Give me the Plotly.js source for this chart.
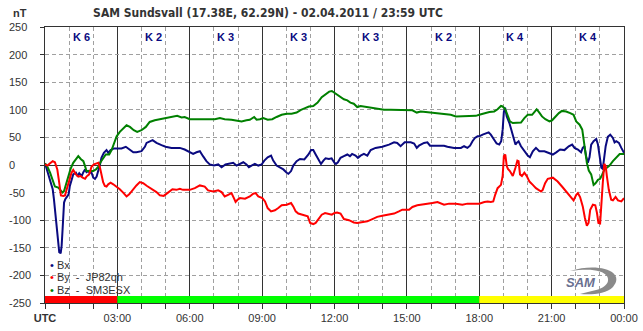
<!DOCTYPE html>
<html>
<head>
<meta charset="utf-8">
<script src="https://cdn.plot.ly/plotly-3.0.1.min.js"></script>
<style>html,body{margin:0;padding:0;background:#fff;}#chart{width:643px;height:331px;}</style>
</head>
<body>
<div id="chart"></div>
<script>
// ---- data (hours UTC, nT) ----
const bxT = [0,0.1,0.2,0.32,0.37,0.43,0.46,0.51,0.57,0.59,0.65,0.69,0.73,0.76,0.79,0.84,0.92,0.98,1.03,1.1,1.17,1.28,1.35,1.42,1.52,1.59,1.66,1.72,1.79,1.86,1.93,2.0,2.07,2.14,2.21,2.28,2.34,2.44,2.55,2.62,2.72,2.86,3.0,3.17,3.35,3.49,3.66,3.79,4.0,4.14,4.21,4.46,4.62,4.83,5.0,5.24,5.59,5.79,6.0,6.14,6.28,6.42,6.55,6.69,6.83,7.0,7.18,7.32,7.48,7.66,7.8,7.94,8.08,8.22,8.35,8.45,8.56,8.7,8.84,8.98,9.09,9.23,9.37,9.46,9.6,9.74,9.88,10.02,10.09,10.2,10.29,10.43,10.57,10.75,10.92,11.03,11.12,11.22,11.33,11.44,11.54,11.63,11.77,11.88,12.0,12.06,12.14,12.25,12.39,12.53,12.64,12.73,12.87,12.97,13.08,13.22,13.36,13.5,13.7,13.98,14.26,14.47,14.6,14.74,14.91,15.16,15.3,15.41,15.5,15.71,15.85,15.96,16.27,16.54,16.68,16.96,17.24,17.37,17.51,17.62,17.72,17.82,17.93,18.0,18.14,18.28,18.39,18.48,18.62,18.72,18.83,18.91,18.97,19.02,19.07,19.14,19.25,19.33,19.41,19.5,19.55,19.63,19.73,19.87,20.01,20.1,20.22,20.35,20.49,20.7,20.91,21.05,21.19,21.35,21.53,21.71,21.85,21.95,22.09,22.22,22.29,22.36,22.43,22.5,22.57,22.64,22.74,22.85,22.92,22.99,23.06,23.12,23.17,23.24,23.33,23.43,23.54,23.61,23.68,23.79,23.89,23.96,24.0];
const bxV = [3,-11,-26,-44,-62,-86,-104,-122,-146,-158,-160,-146,-116,-86,-68,-62,-56,-53,-38,-26,-17,-14,-20,-15,-20,-13,-8,-13,-11,-14,-14,-23,-25,-21,-11,1,13,22,27,22,27,30,30,30,33,28,23,23,25,33,40,45,40,36,33,31,31,28,23,20,23,25,16,7,1,-1,1,-4,1,2,4,-1,2,5,1,-4,-1,2,-1,1,8,14,17,8,-1,-4,-8,-14,-16,-11,-1,7,11,10,19,27,27,19,10,2,8,12,11,12,4,2,5,13,16,19,16,20,17,13,17,20,17,27,31,33,37,41,40,34,41,41,39,31,35,40,41,35,35,35,33,31,31,34,31,35,43,49,52,52,55,57,59,55,46,39,37,43,64,96,104,88,76,64,55,37,40,43,34,25,17,14,25,31,25,25,22,19,23,28,27,34,37,31,28,23,31,34,16,4,14,37,43,47,37,16,-5,-7,10,34,51,55,49,41,43,40,31,23,22];

const byT = [0,0.1,0.21,0.32,0.41,0.51,0.57,0.62,0.66,0.76,0.83,0.9,1.01,1.1,1.17,1.28,1.38,1.48,1.56,1.66,1.72,1.83,1.93,2.03,2.14,2.21,2.28,2.34,2.41,2.48,2.55,2.62,2.72,2.83,2.97,3.1,3.24,3.38,3.49,3.63,3.79,3.93,4.07,4.23,4.41,4.62,4.76,4.92,5.1,5.28,5.45,5.59,5.72,6.0,6.21,6.42,6.62,6.76,6.97,7.18,7.32,7.45,7.59,7.73,7.84,7.9,7.98,8.08,8.29,8.49,8.63,8.73,8.84,9.01,9.12,9.23,9.37,9.53,9.67,9.81,10.02,10.2,10.29,10.39,10.5,10.71,10.89,10.99,11.12,11.22,11.33,11.47,11.61,11.75,11.89,12.0,12.11,12.25,12.39,12.6,12.8,12.94,13.15,13.36,13.57,13.77,13.98,14.19,14.47,14.67,14.81,15.09,15.23,15.43,15.64,15.85,16.06,16.27,16.54,16.75,17.03,17.3,17.51,17.79,18.0,18.21,18.35,18.48,18.58,18.66,18.76,18.9,18.97,19.02,19.08,19.14,19.19,19.27,19.39,19.5,19.58,19.63,19.69,19.77,19.87,19.97,20.08,20.22,20.35,20.56,20.63,20.73,20.84,21.05,21.25,21.43,21.6,21.78,21.91,22.02,22.09,22.18,22.29,22.38,22.46,22.53,22.6,22.71,22.81,22.88,22.94,23.01,23.07,23.12,23.18,23.24,23.29,23.37,23.47,23.54,23.65,23.75,23.89,24.0];
const byV = [1,-1,3,7,5,-8,-26,-44,-55,-56,-55,-44,-26,-14,-9,-17,-21,-20,-23,-25,-21,-17,-3,1,3,4,-5,-20,-31,-38,-39,-35,-32,-35,-39,-44,-50,-57,-53,-45,-37,-31,-33,-38,-43,-49,-55,-56,-50,-44,-45,-43,-45,-45,-42,-37,-39,-46,-48,-46,-49,-57,-54,-51,-61,-67,-63,-60,-61,-57,-52,-51,-57,-60,-66,-78,-84,-82,-78,-73,-72,-69,-75,-84,-88,-90,-93,-105,-107,-105,-98,-90,-87,-88,-90,-87,-86,-88,-98,-100,-104,-105,-104,-102,-98,-94,-92,-90,-88,-84,-81,-81,-76,-73,-72,-70,-69,-67,-72,-70,-70,-72,-70,-70,-70,-67,-66,-67,-66,-54,-42,-36,-20,16,19,-2,-7,-11,-20,-5,8,7,-17,-20,-14,-20,-30,-36,-42,-48,-45,-33,-25,-23,-30,-39,-48,-57,-64,-54,-51,-58,-75,-96,-110,-105,-81,-72,-73,-87,-105,-106,-75,-33,2,-2,-20,-45,-63,-64,-58,-64,-66,-60];

const bzT = [0,0.1,0.21,0.32,0.41,0.55,0.65,0.73,0.79,0.87,0.97,1.06,1.17,1.28,1.38,1.48,1.59,1.66,1.72,1.86,2.0,2.11,2.21,2.3,2.41,2.52,2.66,2.76,2.86,2.97,3.1,3.24,3.38,3.52,3.68,3.82,4.0,4.18,4.34,4.55,4.76,4.97,5.17,5.31,5.48,5.66,5.79,6.0,6.28,6.48,6.76,7.04,7.25,7.45,7.73,7.94,8.15,8.35,8.49,8.67,8.77,8.91,9.05,9.23,9.42,9.6,9.81,10.02,10.22,10.43,10.61,10.78,10.94,11.12,11.3,11.47,11.64,11.78,11.89,12.0,12.11,12.25,12.39,12.53,12.66,12.8,12.94,13.08,13.22,13.43,13.63,13.84,14.05,14.33,14.6,14.81,15.02,15.23,15.41,15.57,15.78,15.99,16.27,16.54,16.82,17.03,17.3,17.51,17.72,17.86,18.0,18.21,18.42,18.62,18.76,18.9,18.97,19.08,19.18,19.27,19.39,19.59,19.73,19.87,20.01,20.19,20.29,20.38,20.49,20.6,20.74,20.91,21.02,21.16,21.3,21.43,21.6,21.77,21.91,22.02,22.16,22.27,22.32,22.38,22.46,22.54,22.64,22.74,22.82,22.92,23.01,23.1,23.19,23.29,23.4,23.54,23.68,23.82,24.0];
const bzV = [3,-3,-14,-29,-39,-41,-47,-50,-47,-35,-19,-7,4,10,16,11,7,-2,-11,-11,-11,-8,-3,5,13,19,19,27,39,52,60,66,72,69,63,60,63,69,78,81,83,84,86,87,89,86,87,83,83,82,82,83,85,83,82,81,79,81,82,87,82,83,85,82,83,87,91,93,93,95,100,103,106,107,113,123,129,133,134,131,127,123,119,117,113,111,105,107,106,105,103,101,100,100,100,99,100,99,95,97,96,95,93,93,91,88,88,88,88,89,91,94,96,97,101,107,106,101,91,79,76,76,77,85,91,91,97,101,95,88,83,79,81,88,94,98,97,94,91,79,73,64,46,22,4,-10,-17,-36,-33,-27,-25,-17,-8,-5,-1,7,14,20,20];

const seriesNames  = ['Bx', 'By  -  JP82qh', 'Bz  -  SM3ESX'];
const seriesColors = ['#0a0a80', '#ff0000', '#008000'];

const kLabels = ['K 6','K 2','K 3','K 3','K 3','K 2','K 4','K 4'];
const kCenters = [1.5,4.5,7.5,10.5,13.5,16.5,19.5,22.5];

const barStarts = [0, 3, 18];
const barEnds   = [3, 18, 24];
const barColors = ['#ff0000', '#00ff00', '#ffff00'];

const xTickVals = [0,3,6,9,12,15,18,21,24];
const xTickText = ['<b>UTC</b>','03:00','06:00','09:00','12:00','15:00','18:00','21:00','00:00'];
const yTickVals = [250,200,150,100,50,0,-50,-100,-150,-200,-250];

// ---- geometry helpers (plot area in pixels) ----
const M = {l:45, r:19, t:27, b:28};
const PW = 643 - M.l - M.r, PH = 331 - M.t - M.b;
const px2x = px => (px - M.l) / PW;
const py2y = py => (331 - M.b - py) / PH;

const FONT = '"Liberation Sans", Arial, sans-serif';

// traces: Bx, Bz, By (red on top)
const order = [0, 2, 1];
const xs = [bxT, byT, bzT], ys = [bxV, byV, bzV];
const traces = order.map(i => ({
  type: 'scatter', mode: 'lines', x: xs[i], y: ys[i], name: seriesNames[i],
  line: {color: seriesColors[i], width: 2}, hoverinfo: 'skip', showlegend: false
}));

const annotations = [];
kLabels.forEach((k, i) => annotations.push({
  x: kCenters[i], y: 231, xref: 'x', yref: 'y', text: '<b>' + k + '</b>', showarrow: false,
  font: {family: FONT, size: 11, color: '#0a0a80'}, xanchor: 'center', yanchor: 'middle'
}));
yTickVals.forEach(v => annotations.push({
  x: px2x(7), y: v, xref: 'paper', yref: 'y', text: String(v), showarrow: false,
  font: {family: FONT, size: 11, color: '#333'}, xanchor: 'left', yanchor: 'middle'
}));
annotations.push({x: px2x(11), y: py2y(13), xref: 'paper', yref: 'paper', text: '<b>nT</b>',
  showarrow: false, xanchor: 'left', yanchor: 'middle', font: {family: FONT, size: 11, color: '#333'}});
const legY = [265, 277, 290];
seriesNames.forEach((n, i) => annotations.push({
  x: px2x(48), y: py2y(legY[i]), xref: 'paper', yref: 'paper', showarrow: false,
  xanchor: 'left', yanchor: 'middle',
  text: '<span style="color:' + seriesColors[i] + '">•</span> ' + n.replace(/ /g, '\u00a0'),
  font: {family: FONT, size: 11, color: '#333'}
}));
// logo text
annotations.push({x: px2x(581), y: py2y(282), xref: 'paper', yref: 'paper', showarrow: false,
  xanchor: 'center', yanchor: 'middle', text: '<b><i>SAM</i></b>',
  font: {family: FONT, size: 13, color: '#6a7090'}});

const shapes = barStarts.map((s, i) => ({
  type: 'rect', xref: 'x', yref: 'y', x0: s, x1: barEnds[i], y0: -250, y1: -237.5,
  fillcolor: barColors[i], line: {width: 0}, layer: 'above'
}));
// logo swoosh
const P = (a, b) => px2x(a).toFixed(4) + ',' + py2y(b).toFixed(4);
shapes.push({type: 'path', xref: 'paper', yref: 'paper', layer: 'above',
  path: 'M' + P(570, 271) + ' C' + P(600, 262) + ' ' + P(626, 272) + ' ' + P(613, 287) +
        ' C' + P(606, 294) + ' ' + P(592, 295) + ' ' + P(580, 294) +
        ' L' + P(592, 291) + ' C' + P(604, 289) + ' ' + P(611, 283) + ' ' + P(607, 276) +
        ' C' + P(603, 270) + ' ' + P(590, 268) + ' ' + P(570, 271) + ' Z',
  fillcolor: '#8a8a8a', line: {width: 0}});

const layout = {
  width: 643, height: 331, margin: M,
  paper_bgcolor: '#fff', plot_bgcolor: '#fff',
  showlegend: false,
  title: {text: 'SAM Sundsvall (17.38E, 62.29N) - 02.04.2011 / 23:59 UTC',
    xref: 'container', yref: 'container', x: 268/643, y: 1 - 13/331,
    xanchor: 'center', yanchor: 'middle',
    font: {family: '"Liberation Sans Narrow", "DejaVu Sans Condensed", Arial, sans-serif', size: 12, color: '#333', weight: 'bold'}},
  xaxis: {
    range: [0, 24], tickmode: 'array', tickvals: xTickVals, ticktext: xTickText,
    ticks: 'outside', ticklen: 5, tickcolor: '#333', tickfont: {family: FONT, size: 11, color: '#333'},
    showgrid: true, gridcolor: '#333', gridwidth: 1,
    minor: {tickmode: 'linear', tick0: 0, dtick: 1, ticks: 'outside', ticklen: 5, tickcolor: '#333',
      showgrid: true, gridcolor: '#a0a0a0', griddash: '4px,3px', gridwidth: 1},
    showline: true, mirror: true, linecolor: '#333', linewidth: 1, zeroline: false, fixedrange: true
  },
  yaxis: {
    range: [-250, 250], tickmode: 'linear', tick0: 0, dtick: 50,
    ticks: 'outside', ticklen: 4, tickcolor: '#333', showticklabels: false,
    showgrid: true, gridcolor: '#a0a0a0', griddash: '4px,3px', gridwidth: 1,
    zeroline: true, zerolinecolor: '#333', zerolinewidth: 1,
    showline: true, mirror: true, linecolor: '#333', linewidth: 1, fixedrange: true
  },
  annotations: annotations, shapes: shapes
};

Plotly.newPlot('chart', traces, layout, {displayModeBar: false, staticPlot: true});
</script>
</body>
</html>
